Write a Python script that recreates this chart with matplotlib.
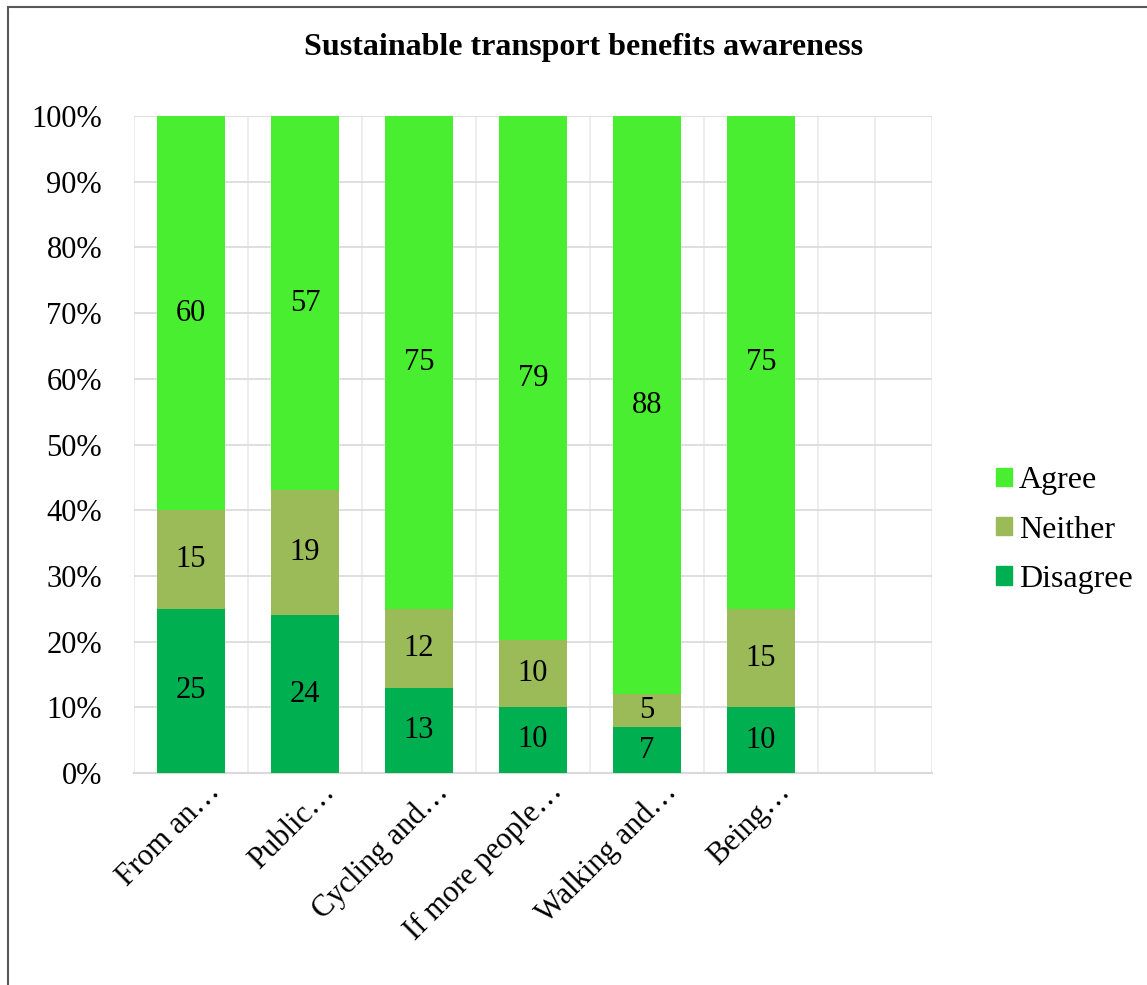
import numpy as np
import matplotlib.pyplot as plt
from matplotlib.patches import Rectangle, Patch
from matplotlib.transforms import ScaledTranslation

# survey responses per statement (counts, shown as 100% stacked)
categories = ['From an…', 'Public…', 'Cycling and…', 'If more people…',
              'Walking and…', 'Being…']
disagree = [25, 24, 13, 10, 7, 10]
neither = [15, 19, 12, 10, 5, 15]
agree = [60, 57, 75, 79, 88, 75]

series_names = ['Disagree', 'Neither', 'Agree']
colors = ['#00B050', '#9BBB59', '#4AEE31']
n_slots = 7  # axis keeps one empty category on the right

plt.rcParams['font.family'] = ['Liberation Serif', 'DejaVu Serif']


def main():
    fig = plt.figure(figsize=(11.47, 9.85), dpi=100)
    ax = fig.add_axes([134 / 1147, 1 - 773 / 985, 798 / 1147, 657 / 985])

    data = np.array([disagree, neither, agree], dtype=float)
    totals = data.sum(axis=0)
    shares = data / totals
    x = np.arange(len(categories))
    bottom = np.zeros(len(categories))
    for vals, share, col in zip(data, shares, colors):
        ax.bar(x, share, 0.6, bottom=bottom, color=col, zorder=3)
        for xi, v, s, b in zip(x, vals, share, bottom):
            ax.text(xi, b + s / 2, '%d' % v, ha='center', va='center',
                    fontsize=22, zorder=4)
        bottom += share

    ax.set_xlim(-0.5, n_slots - 0.5)
    ax.set_ylim(0, 1)
    ax.tick_params(length=0)
    ax.tick_params(axis='y', pad=23)
    ax.tick_params(axis='x', pad=3)
    ax.set_yticks(np.linspace(0, 1, 11))
    ax.set_yticklabels(['%d%%' % p for p in range(0, 101, 10)], fontsize=22)
    ax.set_xticks(x)
    ax.set_xticklabels(categories, fontsize=22, rotation=45, ha='right',
                       va='top', rotation_mode='anchor')
    # nudge the slanted category names to the right of each bar centre
    shift = ScaledTranslation(15 / 100, 0, fig.dpi_scale_trans)
    for lbl in ax.get_xticklabels():
        lbl.set_transform(lbl.get_transform() + shift)

    ax.grid(axis='y', color='#D9D9D9', lw=1.2, zorder=0)
    vlines = list(np.arange(-0.5, n_slots, 1.0)) + [n_slots - 1.0]
    for v in vlines:
        ax.axvline(v, color='#EAEAEA', lw=1.2, zorder=0)
    for side in ['top', 'right', 'left']:
        ax.spines[side].set_visible(False)
    ax.spines['bottom'].set_color('#D9D9D9')
    ax.spines['bottom'].set_linewidth(1.5)

    fig.text(584 / 1147, 1 - 47 / 985, 'Sustainable transport benefits awareness',
             ha='center', va='center', fontsize=23, fontweight='bold')

    handles = [Patch(color=c, label=n) for n, c in zip(series_names, colors)]
    handles = handles[::-1]
    fig.legend(handles=handles, loc='center left',
               bbox_to_anchor=(980 / 1147, 1 - 530 / 985), frameon=False,
               fontsize=23, handlelength=0.5, handleheight=0.5,
               handletextpad=0.22, labelspacing=0.64, borderpad=0)

    # outer chart frame, clipped at right and bottom edges
    fig.patches.append(Rectangle((8 / 1147, -0.1), 1.2, 1 - 7 / 985 + 0.1,
                                 transform=fig.transFigure, fill=False,
                                 edgecolor='#595959', lw=1.5))

    fig.savefig('out.png', dpi=100)
    plt.close(fig)


if __name__ == '__main__':
    main()
